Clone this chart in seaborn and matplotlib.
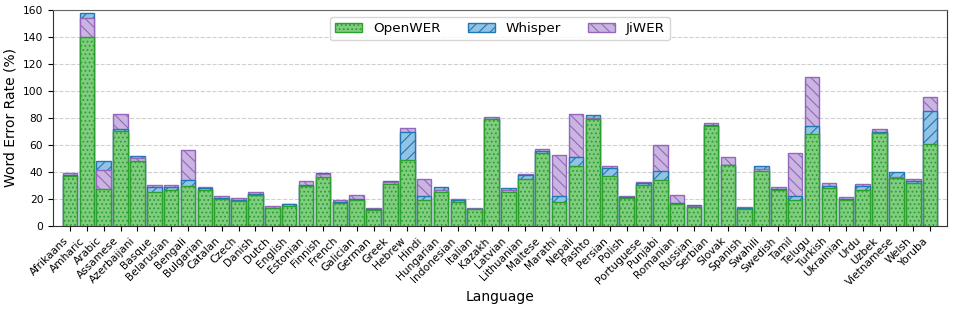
import numpy as np
import pandas as pd
import seaborn as sns
import matplotlib
matplotlib.use("Agg")
import matplotlib.pyplot as plt

languages = ["Afrikaans", "Amharic", "Arabic", "Assamese", "Azerbaijani", "Basque",
             "Belarusian", "Bengali", "Bulgarian", "Catalan", "Czech", "Danish", "Dutch",
             "English", "Estonian", "Finnish", "French", "Galician", "German", "Greek",
             "Hebrew", "Hindi", "Hungarian", "Indonesian", "Italian", "Kazakh", "Latvian",
             "Lithuanian", "Maltese", "Marathi", "Nepali", "Pashto", "Persian", "Polish",
             "Portuguese", "Punjabi", "Romanian", "Russian", "Serbian", "Slovak", "Spanish",
             "Swahili", "Swedish", "Tamil", "Telugu", "Turkish", "Ukrainian", "Urdu",
             "Uzbek", "Vietnamese", "Welsh", "Yoruba"]

openwer = [37, 140, 27.6, 70, 48, 25, 27, 29.6, 26.5, 20, 18.5, 23, 13,
           15, 29.4, 36, 17, 19.5, 12, 31, 48.7, 19, 25, 18, 12.3, 79, 25.5,
           35, 54, 17.7, 44.2, 79, 37, 21, 30, 34.4, 16.5, 14, 74.2, 45, 12.3,
           41, 27, 19, 68, 28.5, 19, 26.6, 68.8, 35.5, 32, 61]
whisper = [38, 157.5, 48.2, 71.5, 51.7, 29, 29, 34.3, 28, 21, 19, 23.5, 13.5,
           16, 30, 39, 18, 20, 12.5, 33.5, 69.7, 22.2, 29, 19.5, 12.8, 79.5, 28.5,
           38, 55.5, 22.2, 50.9, 82, 43.3, 21.5, 31.5, 40.5, 17, 15.2, 75, 45.5, 13,
           44.7, 27.5, 21.9, 74.2, 29.5, 20, 29.9, 69.5, 40.3, 33.5, 85.1]
jiwer = [39, 154.3, 41.3, 83, 50.5, 30.6, 30, 56.1, 29, 22, 20.5, 25, 14.5,
         16.6, 33.3, 38.5, 19, 23, 13, 32.5, 72.8, 35, 27, 20.3, 13.5, 80.5, 27,
         38.5, 56.8, 52.2, 82.7, 80, 44.5, 22.4, 32.6, 60, 22.7, 14.5, 76, 50.8, 13.8,
         42, 28.6, 54.4, 110.2, 31.6, 21.2, 31.4, 72, 36, 34.6, 95.3]

systems = ["OpenWER", "Whisper", "JiWER"]
df = pd.DataFrame({"Language": languages, "OpenWER": openwer,
                   "Whisper": whisper, "JiWER": jiwer})

styles = {
    "OpenWER": dict(color="#80cc80", edgecolor="#2ca02c", hatch="...."),
    "Whisper": dict(color="#92c3e4", edgecolor="#1f77b4", hatch="///"),
    "JiWER": dict(color="#cab4e0", edgecolor="#9467bd", hatch="\\\\\\"),
}

plt.rcParams["hatch.linewidth"] = 0.8
fig, ax = plt.subplots(figsize=(9.54, 3.1), dpi=100)

bars = {}
for name in systems:
    sns.barplot(data=df, x="Language", y=name, ax=ax, saturation=1,
                errorbar=None, width=0.86, linewidth=1, label=name, **styles[name])
    bars[name] = ax.containers[-1]

# taller bars go behind the shorter ones
vals = df[systems].to_numpy()
for i in range(len(df)):
    for rank, k in enumerate(np.argsort(-vals[i])):
        bars[systems[k]].patches[i].set_zorder(2 + rank)

ax.set_ylim(0, 160)
ax.set_yticks(range(0, 161, 20))
ax.set_xlim(-1, len(df))
ax.yaxis.grid(True, linestyle="--", color="#d0d0d0", linewidth=0.8)
ax.set_axisbelow(True)
ax.set_ylabel("Word Error Rate (%)", fontsize=10)
ax.set_xlabel("Language", fontsize=10, labelpad=1.5)
ax.tick_params(axis="both", labelsize=7.7)
for s in ax.spines.values():
    s.set_color("#333333")
ax.spines["top"].set_color("#666666")
plt.setp(ax.get_xticklabels(), rotation=45, ha="right")
ax.legend(loc="upper center", ncol=3, fontsize=9.7, frameon=True)

fig.subplots_adjust(left=0.0556, right=0.9927, top=0.968, bottom=0.271)
fig.savefig("out.png", dpi=100)
